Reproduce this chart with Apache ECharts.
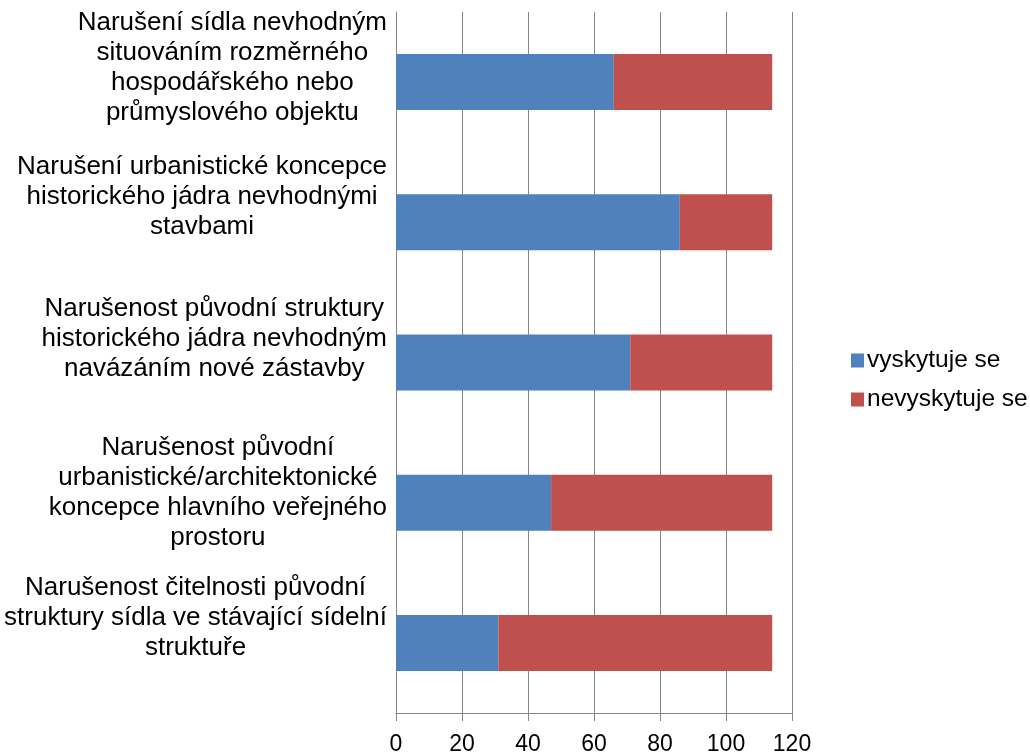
<!DOCTYPE html>
<html>
<head>
<meta charset="utf-8">
<script src="https://cdn.jsdelivr.net/npm/echarts@6/dist/echarts.min.js"></script>
<style>
  html, body { margin: 0; padding: 0; background: #fff; }
  #chart { width: 1030px; height: 753px; }
</style>
</head>
<body>
<div id="chart"></div>
<script>
const categories = [
  "Narušení sídla nevhodným\nsituováním rozměrného\nhospodářského nebo\nprůmyslového objektu",
  "Narušení urbanistické koncepce\nhistorického jádra nevhodnými\nstavbami",
  "Narušenost původní struktury\nhistorického jádra nevhodným\nnavázáním nové zástavby",
  "Narušenost původní\nurbanistické/architektonické\nkoncepce hlavního veřejného\nprostoru",
  "Narušenost čitelnosti původní\nstruktury sídla ve stávající sídelní\nstruktuře"
];
const seriesNames = ["vyskytuje se", "nevyskytuje se"];
const occurs = [66, 86, 71, 47, 31];
const notOccurs = [48, 28, 43, 67, 83];
const xTicks = [0, 20, 40, 60, 80, 100, 120];

// labels sit a bit above bar centre, like the original export
const labelLift = [14, 25, 24, 10, 25];

const font = "'Liberation Sans', Arial, sans-serif";
const grey = "#868686";

const chart = echarts.init(document.getElementById("chart"), null, { renderer: "canvas" });

chart.setOption({
  animation: false,
  backgroundColor: "#fff",
  textStyle: { fontFamily: font },
  grid: { left: 396, right: 238, top: 12, bottom: 40, containLabel: false, outerBoundsMode: "none" },
  legend: {
    orient: "vertical",
    left: 846,
    top: 343,
    itemWidth: 13,
    itemHeight: 14,
    itemGap: 14,
    icon: "rect",
    textStyle: { fontFamily: font, fontSize: 24.5, color: "#000", padding: [0, 0, 0, -2] },
    data: seriesNames
  },
  xAxis: {
    type: "value",
    min: xTicks[0],
    max: xTicks[xTicks.length - 1],
    interval: 20,
    axisLine: { show: true, lineStyle: { color: grey, width: 1 } },
    axisTick: { show: true, length: 8, lineStyle: { color: grey } },
    axisLabel: { color: "#000", fontSize: 23, fontFamily: font, margin: 20 },
    splitLine: { show: true, lineStyle: { color: grey, width: 1 } }
  },
  yAxis: {
    type: "category",
    inverse: true,
    data: categories.map((c, i) => ({
      value: c,
      textStyle: { padding: [0, 0, labelLift[i] * 2, 0] }
    })),
    axisLine: { show: true, lineStyle: { color: grey, width: 1 } },
    axisTick: { show: false },
    axisLabel: {
      interval: 0,
      margin: 9,
      fontFamily: font,
      fontSize: 26,
      lineHeight: 30,
      color: "#000",
      verticalAlign: "middle",
      formatter: (v) => v.split("\n").map((line) => "{c|" + line + "}").join("\n"),
      rich: { c: { align: "center", fontFamily: font, fontSize: 26, lineHeight: 30, color: "#000" } }
    }
  },
  series: [
    {
      name: seriesNames[0],
      type: "bar",
      stack: "total",
      barWidth: 56,
      itemStyle: { color: "#4F81BD" },
      data: occurs
    },
    {
      name: seriesNames[1],
      type: "bar",
      stack: "total",
      barWidth: 56,
      itemStyle: { color: "#C0504D" },
      data: notOccurs
    }
  ]
});
</script>
</body>
</html>
